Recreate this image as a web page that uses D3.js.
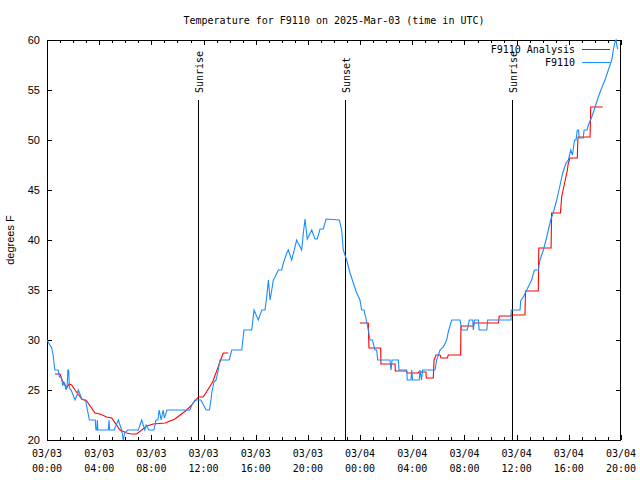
<!DOCTYPE html>
<html>
<head>
<meta charset="utf-8">
<script src="https://cdn.jsdelivr.net/npm/d3@7"></script>
<style>
  html, body { margin: 0; padding: 0; background: #fff; }
  svg { display: block; }
  .mono { font-family: "DejaVu Sans Mono", "Liberation Mono", monospace; font-size: 10px; fill: #000; }
  .sans { font-family: "Liberation Sans", "DejaVu Sans", sans-serif; font-size: 11px; fill: #000; }
</style>
</head>
<body>
<script>
// ---------------- data ----------------
const titleText = "Temperature for F9110 on 2025-Mar-03 (time in UTC)";
const yLabelText = "degrees F";

// x axis: hours since 2025-03-03 00:00 UTC
const tickHours = [0, 4, 8, 12, 16, 20, 24, 28, 32, 36, 40, 44];
const tickDates = ["03/03", "03/03", "03/03", "03/03", "03/03", "03/03", "03/04", "03/04", "03/04", "03/04", "03/04", "03/04"];
const tickTimes = ["00:00", "04:00", "08:00", "12:00", "16:00", "20:00", "00:00", "04:00", "08:00", "12:00", "16:00", "20:00"];
const yTicks = [20, 25, 30, 35, 40, 45, 50, 55, 60];

const sunHours = [11.60, 22.84, 35.62];
const sunLabels = ["Sunrise", "Sunset", "Sunrise"];

const seriesNames = ["F9110 Analysis", "F9110"];

// F9110 observations (blue)
const obsHours = [
  0.00, 0.36, 0.46, 0.60, 0.85, 0.95, 1.10, 1.20, 1.35, 1.45, 1.55, 1.60, 1.66, 1.72, 1.85, 2.00, 2.15, 2.30, 2.40, 2.55,
  2.66, 2.95, 3.10, 3.25, 3.70, 3.75, 3.82, 3.86, 3.90, 4.70, 4.75, 4.80, 5.14, 5.47, 5.72, 5.85, 5.95, 6.20, 7.00, 7.26,
  7.50, 7.60, 7.80, 8.20, 8.35, 8.50, 8.60, 8.75, 8.90, 9.00, 9.20, 10.96, 11.10, 11.35, 11.80, 12.00, 12.20, 12.45, 12.57, 12.63,
  12.80, 12.96, 13.13, 13.26, 13.97, 14.16, 14.93, 15.10, 15.69, 15.87, 16.20, 16.46, 16.71, 16.84, 16.97, 17.10, 17.23, 17.35, 17.48, 17.73,
  17.99, 18.12, 18.38, 18.50, 18.76, 19.14, 19.52, 19.65, 19.78, 19.95, 20.29, 20.54, 20.72, 20.93, 21.18, 21.39, 22.41, 22.59, 22.71, 22.84,
  22.97, 23.23, 23.48, 23.74, 23.99, 24.12, 24.30, 24.51, 24.63, 24.76, 24.94, 25.14, 25.27, 25.35, 26.29, 26.37, 26.45, 26.93, 26.98, 27.57,
  27.62, 27.90, 27.96, 28.02, 28.54, 28.59, 28.71, 28.79, 29.74, 29.87, 30.13, 30.38, 30.64, 30.76, 31.02, 31.66, 31.79, 32.22, 32.37, 32.63,
  32.68, 32.77, 33.06, 33.13, 33.71, 33.78, 35.57, 35.59, 36.26, 36.31, 36.51, 36.77, 36.97, 37.15, 37.36, 37.66, 37.79, 38.05, 38.25, 38.43,
  38.61, 38.87, 39.07, 39.33, 39.53, 39.79, 39.96, 40.15, 40.28, 40.44, 40.55, 40.65, 40.74, 40.80, 41.11, 41.17, 41.40, 41.50, 41.76, 42.01,
  42.26, 42.52, 42.77, 43.03, 43.29, 43.41, 43.54, 43.62, 43.67, 43.75
];
const obsTemps = [
  30.0, 29.2, 28.6, 27.0, 27.0, 26.3, 26.3, 25.5, 25.7, 25.0, 25.5, 27.0, 27.0, 25.2, 25.0, 24.5, 24.0, 24.5, 25.0, 24.5,
  24.1, 24.0, 23.0, 22.0, 22.0, 21.0, 21.0, 22.0, 21.0, 21.0, 22.0, 21.0, 21.0, 22.0, 21.0, 20.0, 20.7, 21.0, 21.0, 22.0,
  21.0, 21.5, 21.0, 21.0, 22.0, 22.0, 23.0, 22.0, 23.0, 22.2, 23.0, 23.0, 23.5, 24.0, 24.0, 23.5, 23.0, 23.0, 24.0, 24.7,
  25.8, 26.0, 27.0, 28.0, 28.0, 29.0, 29.0, 31.0, 31.0, 33.0, 32.0, 33.0, 33.0, 34.3, 36.0, 34.0, 35.0, 36.0, 36.3, 37.0,
  37.0, 37.7, 38.7, 39.0, 38.0, 40.0, 39.0, 40.7, 42.1, 40.1, 41.0, 40.1, 40.1, 41.1, 41.1, 42.1, 42.0, 41.0, 39.0, 38.5,
  38.0, 36.7, 35.7, 34.7, 34.0, 33.0, 33.0, 31.8, 31.0, 30.0, 30.0, 29.0, 29.0, 28.0, 28.0, 27.0, 28.0, 28.0, 27.0, 27.0,
  26.0, 26.0, 27.0, 26.0, 26.0, 27.0, 26.0, 27.0, 27.0, 28.0, 29.0, 29.3, 30.0, 30.8, 32.0, 32.0, 31.0, 31.0, 32.0, 32.0,
  31.0, 32.0, 32.0, 31.0, 31.0, 32.0, 32.0, 33.0, 33.0, 33.9, 34.3, 35.0, 35.5, 36.0, 37.0, 37.0, 38.0, 39.0, 40.0, 41.0,
  42.0, 43.0, 44.0, 45.5, 46.7, 47.7, 48.0, 49.0, 48.5, 50.0, 50.0, 51.0, 51.0, 50.2, 50.2, 51.0, 51.0, 51.5, 52.3, 53.3,
  54.3, 55.2, 56.0, 57.0, 58.0, 59.0, 59.8, 60.0, 59.5, 59.1
];

// F9110 Analysis (red); NaN marks the gap in the analysis
const anaHours = [
  0.61, 1.00, 1.15, 1.51, 1.70, 1.89, 2.15, 2.66, 3.04, 3.68, 4.06, 4.58, 4.96, 5.60, 6.11, 6.49, 6.88, 7.64, 8.15, 9.05,
  9.81, 10.71, 11.09, 11.60, 11.98, 12.70, 13.51, 13.90, 18.00,
  23.99, 24.63, 24.68, 25.58, 25.60, 26.68, 26.70, 27.57, 27.60, 28.46, 28.50, 29.05, 29.07, 29.61, 29.67, 29.82, 30.13, 30.20, 30.69, 30.76,
  31.71, 31.73, 32.68, 32.75, 34.60, 34.67, 35.53, 35.57, 36.64, 36.68, 37.66, 37.70, 38.64, 38.68, 39.36, 39.45, 39.89, 39.96, 40.09, 40.65,
  40.70, 41.63, 41.68, 42.60
];
const anaTemps = [
  26.6, 26.6, 26.0, 25.2, 25.6, 25.5, 25.0, 24.1, 23.9, 22.7, 22.6, 22.3, 22.2, 21.0, 20.7, 20.6, 20.6, 21.4, 21.6, 21.7,
  22.1, 23.0, 23.5, 24.3, 24.3, 25.8, 28.7, 28.7, NaN,
  31.7, 31.7, 29.2, 29.2, 27.6, 27.6, 26.9, 26.9, 26.7, 26.7, 26.8, 26.8, 26.2, 26.2, 28.0, 28.5, 28.5, 28.2, 28.2, 28.5,
  28.5, 31.4, 31.4, 31.7, 31.7, 32.4, 32.4, 32.5, 32.5, 34.9, 34.9, 39.2, 39.2, 42.7, 42.7, 44.3, 47.0, 47.7, 48.2, 48.2,
  50.3, 50.3, 53.3, 53.3
];

const colors = ["#ff0000", "#1a8cff"];

// ---------------- chart ----------------
const W = 640, H = 480;
const L = 47, R = 621, T = 40, B = 440;

const svg = d3.select("body").append("svg").attr("width", W).attr("height", H);

const x = d3.scaleLinear().domain([0, 44]).range([L, R]);
const y = d3.scaleLinear().domain([20, 60]).range([B, T]);
const px = v => Math.round(v) + 0.5;

// title
svg.append("text").attr("class", "mono").attr("x", (L + R) / 2).attr("y", 24)
  .attr("text-anchor", "middle").text(titleText);

// y label
svg.append("text").attr("class", "sans")
  .attr("transform", `translate(14,${(T + B) / 2}) rotate(-90)`)
  .attr("text-anchor", "middle").text(yLabelText);

const g = svg.append("g").attr("shape-rendering", "crispEdges");

// minor / major x ticks (bottom and top)
const allHours = d3.range(0, 45);
allHours.forEach(h => {
  const major = tickHours.includes(h);
  const len = major ? 5 : 3;
  const xx = px(x(h));
  g.append("line").attr("x1", xx).attr("x2", xx).attr("y1", B).attr("y2", B - len).attr("stroke", "#000");
  g.append("line").attr("x1", xx).attr("x2", xx).attr("y1", T).attr("y2", T + len).attr("stroke", "#000");
});

// y ticks (left and right)
yTicks.forEach(v => {
  const yy = px(y(v));
  g.append("line").attr("x1", L).attr("x2", L + 5).attr("y1", yy).attr("y2", yy).attr("stroke", "#000");
  g.append("line").attr("x1", R).attr("x2", R - 5).attr("y1", yy).attr("y2", yy).attr("stroke", "#000");
  svg.append("text").attr("class", "sans").attr("x", 40).attr("y", y(v) + 4)
    .attr("text-anchor", "end").text(v);
});

// x tick labels
tickHours.forEach((h, i) => {
  const t = svg.append("text").attr("class", "mono").attr("text-anchor", "middle");
  t.append("tspan").attr("x", x(h)).attr("y", 457).text(tickDates[i]);
  t.append("tspan").attr("x", x(h)).attr("y", 472).text(tickTimes[i]);
});

// sunrise / sunset lines
sunHours.forEach((h, i) => {
  const xx = px(x(h));
  g.append("line").attr("x1", xx).attr("x2", xx).attr("y1", 100).attr("y2", B).attr("stroke", "#000");
  svg.append("text").attr("class", "mono")
    .attr("transform", `translate(${x(h) + 5},93) rotate(-90)`)
    .attr("text-anchor", "start").text(sunLabels[i]);
});

// series
const anaData = anaHours.map((h, i) => [h, anaTemps[i]]);
const obsData = obsHours.map((h, i) => [h, obsTemps[i]]);
const line = d3.line().defined(d => !isNaN(d[1])).x(d => x(d[0])).y(d => y(d[1]));

svg.append("path").datum(anaData).attr("d", line)
  .attr("fill", "none").attr("stroke", colors[0]).attr("stroke-width", 1.1);
svg.append("path").datum(obsData).attr("d", line)
  .attr("fill", "none").attr("stroke", colors[1]).attr("stroke-width", 1.1);

// frame
g.append("rect").attr("x", L + 0.5).attr("y", T + 0.5).attr("width", R - L - 1).attr("height", B - T)
  .attr("fill", "none").attr("stroke", "#000");

// legend
seriesNames.forEach((name, i) => {
  const ly = 49 + i * 13;
  svg.append("text").attr("class", "mono").attr("x", 575).attr("y", ly + 4)
    .attr("text-anchor", "end").text(name);
  g.append("line").attr("x1", 582).attr("x2", 610).attr("y1", px(ly)).attr("y2", px(ly))
    .attr("stroke", colors[i]);
});
</script>
</body>
</html>
